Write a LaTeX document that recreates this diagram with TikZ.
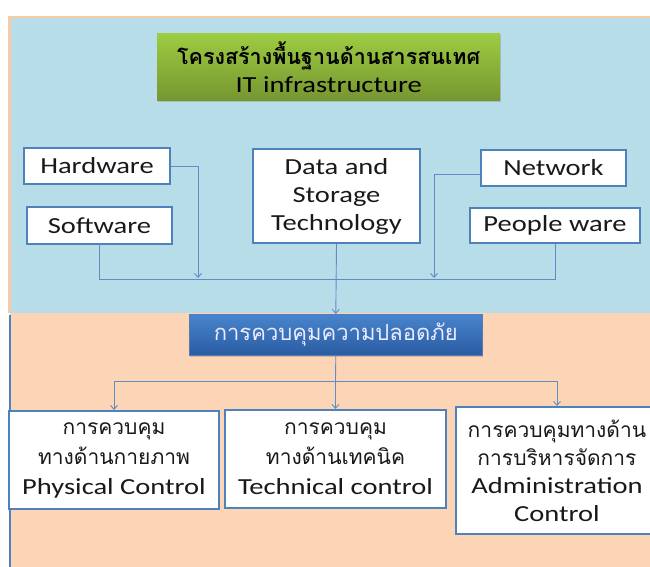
\documentclass[tikz,border=0pt]{standalone}
\usepackage{fontspec}
\setmainfont{Carlito}[FakeStretch=1.24]
\newfontfamily\thai{Loma}[Script=Thai]
\usetikzlibrary{arrows.meta,shadows}
\definecolor{bgblue}{RGB}{183,222,232}
\definecolor{bgorange}{RGB}{251,213,181}
\definecolor{edgeorange}{RGB}{248,203,165}
\definecolor{boxblue}{RGB}{79,129,189}
\definecolor{lineblue}{RGB}{95,140,200}
\definecolor{greentop}{RGB}{158,204,66}
\definecolor{greenbot}{RGB}{118,150,48}
\definecolor{sectop}{RGB}{72,132,204}
\definecolor{secbot}{RGB}{42,92,162}
\tikzset{
  itembox/.style={draw=boxblue, line width=2pt, fill=white, anchor=north west, inner sep=0pt,
    align=center, font=\fontsize{23}{28}\selectfont, text=black!90},
  conn/.style={draw=lineblue, line width=0.9pt},
  arr/.style={conn, -{Straight Barb[length=4pt,width=7pt]}},
}
\newcommand{\thline}[1]{{\thai\fontsize{21}{30}\selectfont #1}}
\begin{document}
\begin{tikzpicture}[x=1pt,y=-1pt]
\useasboundingbox (0,0) rectangle (650,567);
% backgrounds
\fill[white] (0,0) rectangle (650,567);
\fill[edgeorange] (8,16) rectangle (650,313);
\fill[bgorange] (10,313) rectangle (650,567);
\fill[bgblue] (11,18.5) rectangle (650,313);
\draw[boxblue, line width=2pt] (9.5,315) -- (9.5,567);
% title
\node[anchor=north west, minimum width=343pt, minimum height=67pt, inner sep=0pt,
  top color=greentop, bottom color=greenbot, draw=none, align=center,
  drop shadow={shadow xshift=1pt, shadow yshift=-2pt, opacity=0.35},
  font=\fontsize{23}{28}\selectfont] (title) at (157,33)
  {{\thai\bfseries\fontsize{21.5}{24}\selectfont โครงสร้างพื้นฐานด้านสารสนเทศ}\\[0pt]IT infrastructure};
% top boxes
\node[itembox, minimum width=146pt, minimum height=36pt] (hw) at (23,147) {Hardware};
\node[itembox, minimum width=145pt, minimum height=37pt] (sw) at (26,206) {Software};
\node[itembox, minimum width=167pt, minimum height=94pt] (ds) at (252,148) {Data and\\Storage\\Technology};
\node[itembox, minimum width=145pt, minimum height=36pt] (nw) at (480,149) {Network};
\node[itembox, minimum width=170pt, minimum height=35pt] (pw) at (469,207) {People ware};
% security box
\node[anchor=north west, minimum width=293pt, minimum height=41pt, inner sep=0pt,
  top color=sectop, bottom color=secbot, draw=secbot!80, line width=0.6pt,
  drop shadow={shadow xshift=1pt, shadow yshift=-2pt, opacity=0.35},
  text=white!92!blue, font=\thai\fontsize{22}{24}\selectfont] (sec) at (189,314)
  {การควบคุมความปลอดภัย};
% bottom boxes
\node[itembox, minimum width=210pt, minimum height=98pt, font=\fontsize{23}{30}\selectfont] (ph) at (8,410)
  {\thline{การควบคุม}\\\thline{ทางด้านกายภาพ}\\Physical Control};
\node[itembox, minimum width=221pt, minimum height=98pt, font=\fontsize{23}{30}\selectfont] (tc) at (224,409)
  {\thline{การควบคุม}\\\thline{ทางด้านเทคนิค}\\Technical control};
\node[itembox, minimum width=202pt, minimum height=127pt, font=\fontsize{23}{28}\selectfont] (ad) at (455,406)
  {\thline{การควบคุมทางด้าน}\\\thline{การบริหารจัดการ}\\Administration\\Control};
% connectors top
\coordinate (bus) at (0,279);
\coordinate (hwend) at (198,278);
\coordinate (nwend) at (434,278);
\draw[arr] (hw.east) -| (hwend);
\draw[arr] ([yshift=-6pt]nw.west) -| (nwend);
\draw[conn] (sw.south) -- (sw.south |- bus) -- (pw.south |- bus) -- (pw.south);
\draw[arr] (ds.south) -- (sec.north);
% connectors bottom
\coordinate (b2) at (335.5,381);
\draw[conn] (sec.south) -- (b2);
\draw[arr] (b2) -| (ph.north);
\draw[arr] (b2) -- (b2 |- tc.north);
\draw[arr] (b2) -| (ad.north);
\end{tikzpicture}
\end{document}
